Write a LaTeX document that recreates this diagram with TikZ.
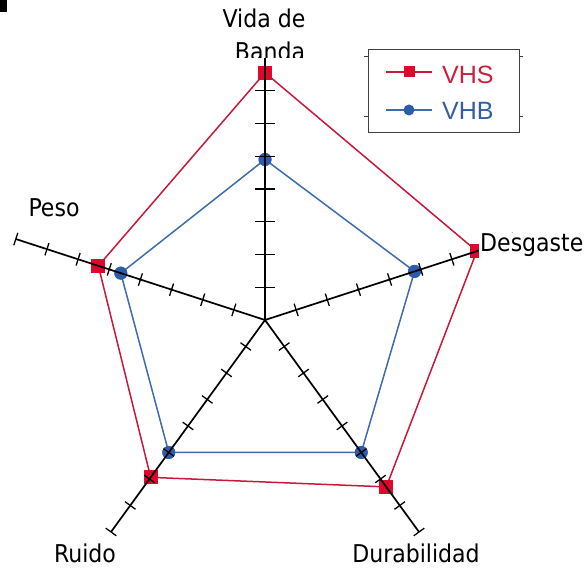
\documentclass[tikz,border=0pt]{standalone}
\usepackage{fontspec}
\setmainfont{DejaVu Sans Condensed}
\newfontfamily\legfont{Liberation Sans}
\usetikzlibrary{calc}
\definecolor{vhsred}{RGB}{222,8,42}
\definecolor{vhsline}{RGB}{200,25,60}
\definecolor{vhbblue}{RGB}{45,92,170}
\definecolor{vhbline}{RGB}{62,108,172}
\definecolor{vhstext}{RGB}{205,30,60}
\definecolor{vhbtext}{RGB}{52,92,160}
\begin{document}
\begin{tikzpicture}[x=1pt,y=1pt,
  axisline/.style={line width=1.7pt,black},
  tickmark/.style={line width=1.3pt,black},
  lbl/.style={font=\fontsize{24.5}{30}\selectfont,inner sep=0pt},
  legtext/.style={font=\legfont\fontsize{25}{30}\selectfont,inner sep=0pt,anchor=base west},
  vhsl/.style={vhsline,line width=1.5pt},
  vhbl/.style={vhbline,line width=1.5pt},
  sq/.style={rectangle,fill=vhsred,draw=none,minimum size=14pt,inner sep=0pt},
  dt/.style={circle,fill=vhbblue,draw=none,minimum size=13pt,inner sep=0pt}]
\useasboundingbox (0,0) rectangle (586,568);
\fill[white] (0,0) rectangle (586,568);
\fill[black] (0,556) rectangle (7,568);
% labels (top one clipped by plot area)
\node[lbl,anchor=base] (lv1) at (264,540) {Vida de};
\node[lbl,anchor=base] (lv2) at (270,507) {Banda};
\fill[white] (225,498) rectangle (315,510);
\coordinate (C) at (265,248);
\foreach \n/\a in {vida/90,desg/18,dura/-54,ruid/-126,peso/162}
  \coordinate (\n) at ($(C)+(\a:262)$);
% series VHS
\node[sq] (s1) at ($(C)+(90:247.3)$) {};
\node[sq] (s2) at ($(C)+(18:222.7)$) {};
\node[sq] (s3) at ($(C)+(-54:206.3)$) {};
\node[sq] (s4) at ($(C)+(-126:194.5)$) {};
\node[sq] (s5) at ($(C)+(162:175.2)$) {};
\draw[vhsl] (s1.center) -- (s2.center) -- (s3.center) -- (s4.center) -- (s5.center) -- cycle;
\foreach \s in {s1,s2,s3,s4,s5} \node[sq] at (\s) {};
% series VHB
\node[dt] (b1) at ($(C)+(90:160.5)$) {};
\node[dt] (b2) at ($(C)+(18:157.2)$) {};
\node[dt] (b3) at ($(C)+(-54:163.75)$) {};
\node[dt] (b4) at ($(C)+(-126:163.75)$) {};
\node[dt] (b5) at ($(C)+(162:151.6)$) {};
\draw[vhbl] (b1.center) -- (b2.center) -- (b3.center) -- (b4.center) -- (b5.center) -- cycle;
\foreach \s in {b1,b2,b3,b4,b5} \node[dt] at (\s) {};
% axes
\foreach \n in {vida,desg,dura,ruid,peso} \draw[axisline] (C) -- (\n);
\foreach \k in {1,...,7}
  \draw[tickmark] ($(C)+(-10,\k*32.75)$) -- ($(C)+(10,\k*32.75)$);
\foreach \a in {18,-54,-126,162}
  \foreach \k in {1,...,8}
    \draw[tickmark,shift={(C)},rotate=\a] (\k*32.75,-6.5) -- (\k*32.75,6.5);
% other labels
\node[lbl,anchor=base west,fill=white,inner sep=1.5pt] (ld) at (478.5,316) {Desgaste};
\node[lbl,anchor=base] (lp) at (54,351) {Peso};
\node[lbl,anchor=base] (lr) at (85,6) {Ruido};
\node[lbl,anchor=base] (ldu) at (416,6) {Durabilidad};
% legend
\draw[black!75,line width=1pt] (368,435) rectangle (519,518);
\foreach \yy in {511,451} {
  \draw[black!75,line width=1pt] (364,\yy) -- (368,\yy);
  \draw[black!75,line width=1pt] (519,\yy) -- (523,\yy);
}
\coordinate (la1) at (386,496);
\coordinate (la2) at (432,496);
\draw[vhsl,line width=2pt] (la1) -- (la2);
\node[sq,minimum size=11pt] (lsq) at (409,496) {};
\node[legtext,text=vhstext] (lt1) at (442,484) {VHS};
\coordinate (lb1) at (386,458);
\coordinate (lb2) at (432,458);
\draw[vhbl,line width=2pt] (lb1) -- (lb2);
\node[dt,minimum size=11pt] (ldt) at (409,458) {};
\node[legtext,text=vhbtext] (lt2) at (442,448) {VHB};
\end{tikzpicture}
\end{document}
